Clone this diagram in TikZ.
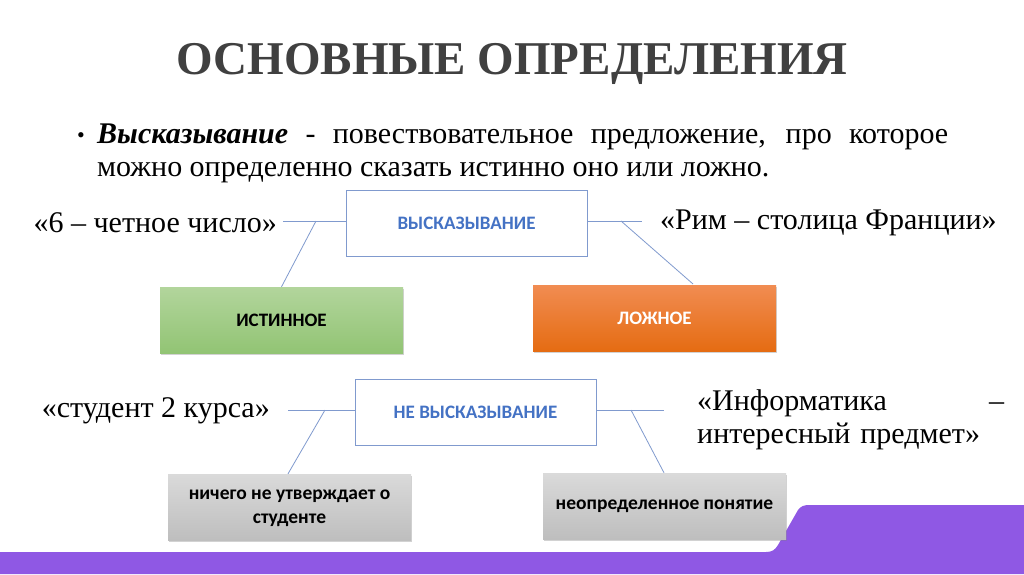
\documentclass[tikz,border=0pt]{standalone}
\usepackage{fontspec}
\setmainfont{Liberation Serif}
\newfontfamily\boxfont{Carlito}
\usepackage{xcolor}
\usetikzlibrary{positioning,shadows,calc}
\definecolor{titlegray}{RGB}{64,64,64}
\definecolor{lineblue}{RGB}{128,154,206}
\definecolor{textblue}{RGB}{68,114,196}
\definecolor{bandpurple}{RGB}{143,88,228}
\tikzset{
  kbox/.style={rectangle,draw=lineblue,fill=white,minimum width=241pt,minimum height=66pt,align=center,font=\boxfont\bfseries\fontsize{19}{22}\selectfont,text=textblue},
  valbox/.style={rectangle,minimum width=243pt,minimum height=66pt,align=center,font=\boxfont\bfseries\fontsize{19}{24}\selectfont,drop shadow={shadow xshift=1pt,shadow yshift=-2pt,opacity=0.35}},
  truebox/.style={valbox,top color={rgb,255:red,178;green,213;blue,156},bottom color={rgb,255:red,146;green,196;blue,116},text=black},
  falsebox/.style={valbox,top color={rgb,255:red,241;green,140;blue,82},bottom color={rgb,255:red,229;green,108;blue,18},text=white},
  graybox/.style={valbox,font=\boxfont\bfseries\fontsize{19.5}{24}\selectfont,top color={rgb,255:red,218;green,218;blue,218},bottom color={rgb,255:red,190;green,190;blue,190},text=black},
  quote/.style={inner sep=0pt,font=\fontsize{30}{33}\selectfont},
  conn/.style={draw=lineblue,line width=0.8pt}
}
\begin{document}
\begin{tikzpicture}[x=1pt,y=-1pt]
  \fill[white] (0,0) rectangle (1024,574);
  \useasboundingbox (0,0) rectangle (1024,574);

  % title and definition
  \node[font=\bfseries\fontsize{47}{56}\selectfont,text=titlegray] (title) at (512,64) {ОСНОВНЫЕ ОПРЕДЕЛЕНИЯ};
  \node[inner sep=0pt,font=\fontsize{22}{24}\selectfont] (bullet) at (81,138) {•};
  \node[quote,anchor=north west,text width=851pt,align=justify] (def) at (97,124)
    {\textbf{\textit{Высказывание}} - повествовательное предложение, про которое\linebreak
     можно определенно сказать истинно оно или ложно.};

  % first group
  \node[kbox] (stmt) at (466.5,223.5) {ВЫСКАЗЫВАНИЕ};
  \node[truebox] (true) at (281.5,320) {ИСТИННОЕ};
  \node[falsebox] (false) at (654.5,318) {ЛОЖНОЕ};
  \node[quote,anchor=east] (even) at (277,223) {«6 – четное число»};
  \node[quote,anchor=west] (rome) at (660,223) {«Рим – столица Франции»};
  \coordinate (stmtL) at (283,221);
  \coordinate (stmtLj) at (316,221);
  \coordinate (stmtR) at (642,221);
  \coordinate (stmtRj) at (621,221);
  \coordinate (falseT) at (693,284);
  \draw[conn] (stmt.west |- stmtL) -- (stmtL);
  \draw[conn] (stmtLj) -- (true.north);
  \draw[conn] (stmt.east |- stmtR) -- (stmtR);
  \draw[conn] (stmtRj) -- (falseT);

  % second group
  \node[kbox] (nstmt) at (475.5,412) {НЕ ВЫСКАЗЫВАНИЕ};
  \node[graybox] (nothing) at (289.5,507) {\strut ничего не утверждает о\\\strut студенте};
  \node[quote,anchor=east] (student) at (270,411) {«студент 2 курса»};
  \node[quote,anchor=north west,text width=307pt,align=left] (inf) at (697,389)
    {«Информатика\hfill–\\интересный предмет»};
  \coordinate (nstmtL) at (288,410);
  \coordinate (nstmtLj) at (325,410);
  \coordinate (nstmtR) at (664,410);
  \coordinate (nstmtRj) at (631,410);
  \draw[conn] (nstmt.west |- nstmtL) -- (nstmtL);
  \draw[conn] (nstmtLj) -- (nothing.north -| nstmtL);

  % purple band
  \fill[bandpurple] (0,552) -- (766,552) .. controls (772,552) and (775,550) .. (778,545)
    -- (798,510) .. controls (801,506) and (804,505) .. (810,505)
    -- (1024,505) -- (1024,574) -- (0,574) -- cycle;
  \node[graybox] (undef) at (664.5,506) {неопределенное понятие};
  \draw[conn] (nstmt.east |- nstmtR) -- (nstmtR);
  \draw[conn] (nstmtRj) -- (undef.north -| nstmtR);
\end{tikzpicture}
\end{document}
